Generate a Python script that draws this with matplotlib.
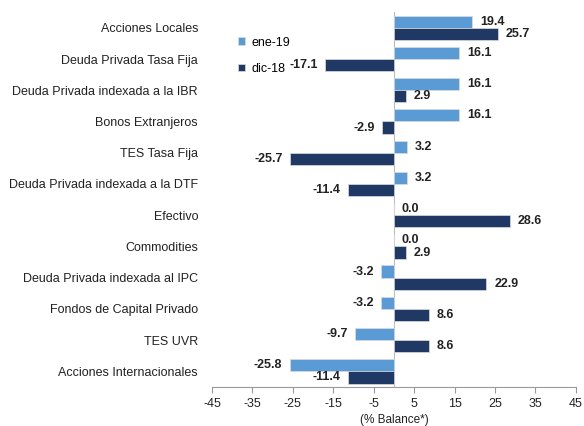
import numpy as np
import matplotlib
matplotlib.use('Agg')
import matplotlib.pyplot as plt

plt.rcParams['font.family'] = ['Liberation Sans', 'DejaVu Sans']

categories = ['Acciones Locales', 'Deuda Privada Tasa Fija', 'Deuda Privada indexada a la IBR',
              'Bonos Extranjeros', 'TES Tasa Fija', 'Deuda Privada indexada a la DTF',
              'Efectivo', 'Commodities', 'Deuda Privada indexada al IPC',
              'Fondos de Capital Privado', 'TES UVR', 'Acciones Internacionales']
ene19 = [19.4, 16.1, 16.1, 16.1, 3.2, 3.2, 0.0, 0.0, -3.2, -3.2, -9.7, -25.8]
dic18 = [25.7, -17.1, 2.9, -2.9, -25.7, -11.4, 28.6, 2.9, 22.9, 8.6, 8.6, -11.4]
xticks = [-45, -35, -25, -15, -5, 5, 15, 25, 35, 45]

c_light = '#5B9BD5'
c_dark = '#1F3864'

fig = plt.figure(figsize=(5.84, 4.26), dpi=100)
ax = fig.add_axes([0.363, 0.0915, 0.623, 0.88])

y = np.arange(len(categories))
h = 0.39
ax.barh(y - h / 2, ene19, height=h, color=c_light, label='ene-19',
        edgecolor='#dddddd', linewidth=0.5)
ax.barh(y + h / 2, dic18, height=h, color=c_dark, label='dic-18',
        edgecolor='#dddddd', linewidth=0.5)

for yy, vals in [(y - h / 2, ene19), (y + h / 2, dic18)]:
    for yi, v in zip(yy, vals):
        if v >= 0:
            ax.text(v + 2.0, yi, f'{v:.1f}', va='center', ha='left',
                    fontsize=9, fontweight='bold', color='#222222')
        else:
            ax.text(v - 1.8, yi, f'{v:.1f}', va='center', ha='right',
                    fontsize=9, fontweight='bold', color='#222222')

ax.set_xlim(-45, 45)
ax.set_ylim(len(categories) - 0.5, -0.5)
ax.set_xticks(xticks)
ax.set_xticklabels([str(t) for t in xticks], fontsize=9, color='#222222')
ax.set_yticks(y)
ax.set_yticklabels(categories, fontsize=9, color='#222222')
ax.tick_params(axis='y', length=0, pad=10)
ax.tick_params(axis='x', length=4, color='#999999', pad=4)
ax.set_xlabel('(% Balance*)', fontsize=8.5, color='#222222', labelpad=3)

for s in ['top', 'right', 'left']:
    ax.spines[s].set_visible(False)
ax.spines['bottom'].set_color('#999999')
ax.spines['bottom'].set_linewidth(0.8)
ax.axvline(0, color='#bbbbbb', linewidth=0.8, zorder=0)

ax.legend(loc='upper left', bbox_to_anchor=(0.04, 0.965), frameon=False,
          fontsize=9, handlelength=0.6, handleheight=0.6, labelspacing=1.15,
          handletextpad=0.5)

fig.savefig('out.png', dpi=100)
